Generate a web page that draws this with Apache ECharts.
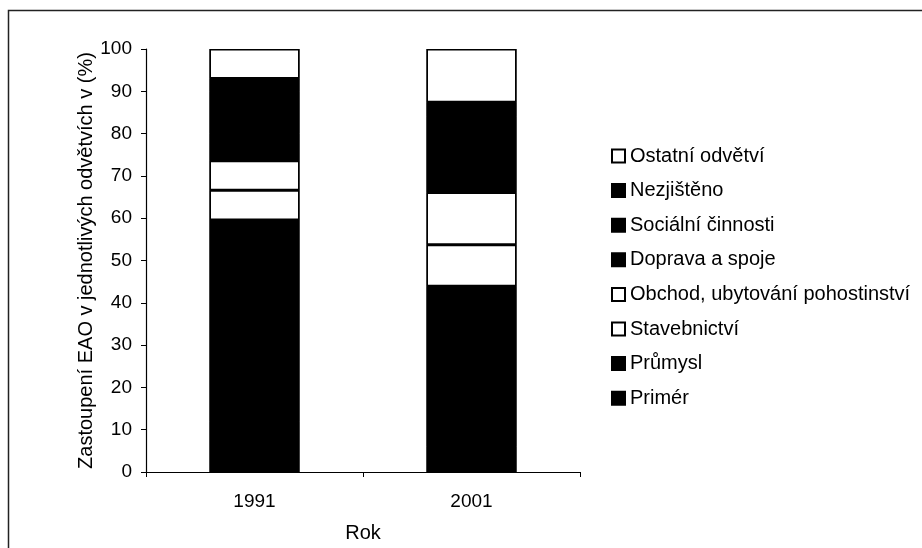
<!DOCTYPE html>
<html>
<head>
<meta charset="utf-8">
<script src="https://cdn.jsdelivr.net/npm/echarts@6/dist/echarts.min.js"></script>
<style>html,body{margin:0;padding:0;background:#fff}#c{width:922px;height:548px}</style>
</head>
<body>
<div id="c"></div>
<script>
const categories = ['1991', '2001'];
const seriesNames = ['Primér', 'Průmysl', 'Stavebnictví', 'Obchod, ubytování pohostinství', 'Doprava a spoje', 'Sociální činnosti', 'Nezjištěno', 'Ostatní odvětví'];
const primer = [12.0, 6.0];
const prumysl = [47.6, 37.9];
const stavebnictvi = [7.0, 9.8];
const obchod = [7.0, 12.4];
const doprava = [6.4, 7.9];
const socialni = [10.0, 10.0];
const nezjisteno = [3.0, 3.4];
const ostatni = [7.0, 12.6];
const yTicks = [0, 10, 20, 30, 40, 50, 60, 70, 80, 90, 100];

const values = [primer, prumysl, stavebnictvi, obchod, doprava, socialni, nezjisteno, ostatni];
const fills = ['#000000', '#000000', '#ffffff', '#ffffff', '#000000', '#000000', '#000000', '#ffffff'];

const FONT = 'Arial, "Liberation Sans", sans-serif';
const chart = echarts.init(document.getElementById('c'), null, {renderer: 'canvas'});
chart.setOption({
  backgroundColor: '#ffffff',
  animation: false,
  graphic: [{
    type: 'rect', shape: {x: 8.5, y: 10.5, width: 930, height: 560},
    style: {fill: 'none', stroke: '#222', lineWidth: 1.5}, silent: true, z: -1
  }],
  grid: {left: 146, top: 49, width: 434, height: 428, containLabel: false},
  legend: {
    orient: 'vertical', left: 606, top: 141,
    data: seriesNames.slice().reverse(),
    itemWidth: 13, itemHeight: 13, itemGap: 14.6,
    icon: 'rect',
    itemStyle: {borderColor: '#000', borderWidth: 2},
    textStyle: {fontFamily: FONT, fontSize: 20, lineHeight: 20, color: '#000'},
    selectedMode: false
  },
  xAxis: {
    type: 'category', data: categories,
    name: 'Rok', nameLocation: 'middle', nameGap: 51,
    nameTextStyle: {fontFamily: FONT, fontSize: 20, color: '#000'},
    axisLine: {lineStyle: {color: '#000', width: 1.2}},
    axisTick: {show: true, length: 5, lineStyle: {color: '#000'}},
    axisLabel: {fontFamily: FONT, fontSize: 19, color: '#000', margin: 20}
  },
  yAxis: {
    type: 'value', min: 0, max: 100, interval: 10,
    name: 'Zastoupení EAO v jednotlivých odvětvích v (%)', nameLocation: 'middle', nameGap: 43,
    nameTextStyle: {fontFamily: FONT, fontSize: 20, color: '#000'},
    axisLine: {show: true, lineStyle: {color: '#000', width: 1.2}},
    axisTick: {show: true, length: 5, lineStyle: {color: '#000'}},
    splitLine: {show: false},
    axisLabel: {fontFamily: FONT, fontSize: 19, color: '#000', margin: 14,
      formatter: v => yTicks.includes(v) ? String(v) : ''}
  },
  series: seriesNames.map((n, i) => ({
    name: n, type: 'bar', stack: 'total', barWidth: 90,
    data: values[i],
    showBackground: i === 0,
    backgroundStyle: {color: '#000'},
    itemStyle: {color: fills[i], borderColor: '#000', borderWidth: 1.5}
  }))
});
</script>
</body>
</html>
